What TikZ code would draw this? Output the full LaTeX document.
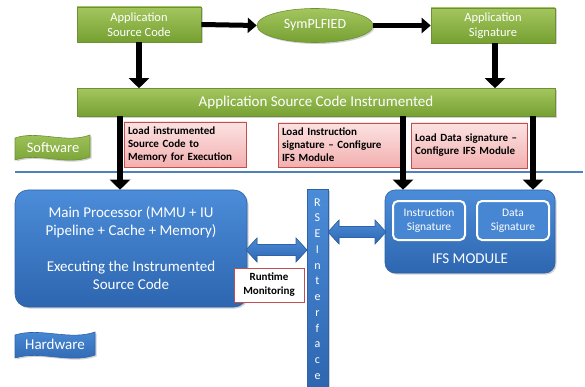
\documentclass[tikz,border=0pt]{standalone}
\usepackage{fontspec}
\setmainfont{Carlito}
\usetikzlibrary{arrows.meta,shapes.geometric,shadows}
\definecolor{gtop}{HTML}{A3C65E}
\definecolor{gbot}{HTML}{76A032}
\definecolor{gline}{HTML}{6E9035}
\definecolor{btop}{HTML}{4B8CD8}
\definecolor{bbot}{HTML}{2E66B0}
\definecolor{bline}{HTML}{2F62A8}
\definecolor{ptop}{HTML}{FCE2E2}
\definecolor{pbot}{HTML}{F3B0B0}
\definecolor{pline}{HTML}{C0504D}
\definecolor{sepline}{HTML}{4F81BD}
\newcommand\blockdarrow[3]{%
  \fill[top color=btop,bottom color=bbot,draw=bline,line width=0.6pt]
   (#1,#3) -- (#1+11,#3-12) -- (#1+11,#3-5.5) -- (#2-11,#3-5.5) -- (#2-11,#3-12)
   -- (#2,#3) -- (#2-11,#3+12) -- (#2-11,#3+5.5) -- (#1+11,#3+5.5) -- (#1+11,#3+12) -- cycle;}
\begin{document}
\begin{tikzpicture}[x=1pt,y=-1pt,
  shad/.style={drop shadow={shadow xshift=1.5pt,shadow yshift=-1.5pt,opacity=0.3,fill=black!60}},
  greenbox/.style={draw=gline,line width=0.6pt,top color=gtop,bottom color=gbot,text=white,
     align=center,inner sep=0pt,font=\fontsize{12.5}{15.5}\selectfont,shad},
  bluebox/.style={draw=bline,line width=0.6pt,top color=btop,bottom color=bbot,text=white,
     align=center,inner sep=0pt,shad},
  pinkbox/.style={draw=pline,line width=0.6pt,top color=ptop,bottom color=pbot,
     align=left,inner sep=0pt,font=\bfseries\fontsize{11}{13}\selectfont},
  bigarrow/.style={line width=6pt,-{Triangle[length=10pt,width=20pt]}},
  smallarrow/.style={line width=5pt,-{Triangle[length=9pt,width=15pt]}}
]
\useasboundingbox (0,0) rectangle (585,387);

% top row
\node[greenbox,minimum width=124pt,minimum height=35pt] (asc) at (139,24.5) {Application\\Source Code};
\node[greenbox,ellipse,minimum width=116pt,minimum height=34pt,font=\fontsize{14}{16}\selectfont] (sym) at (315,25.5) {SymPLFIED};
\node[greenbox,minimum width=124pt,minimum height=35pt] (sig) at (493,25.5) {Application\\Signature};
\node[greenbox,minimum width=478pt,minimum height=28pt,font=\fontsize{15}{17}\selectfont] (bar) at (316,102.5) {Application Source Code Instrumented};

\draw[smallarrow] (asc.east) -- (sym.west);
\draw[smallarrow] (sym.east) -- (sig.west);
\draw[bigarrow] (asc.south) -- (asc.south |- bar.north);
\draw[bigarrow] ([xshift=2pt]sig.south) -- ([xshift=2pt]sig.south |- bar.north);

% pink notes
\node[pinkbox,minimum width=122pt,minimum height=45pt,text width=114pt] (p1) at (185,144.5) {Load instrumented\\Source Code to\\Memory for Execution};
\node[pinkbox,minimum width=122pt,minimum height=44pt,text width=114pt] (p2) at (339,145) {Load Instruction\\signature -- Configure\\IFS Module};
\node[pinkbox,minimum width=116pt,minimum height=45pt,text width=108pt] (p3) at (469,145.5) {Load Data signature --\\Configure IFS Module};

% software banner
\path[draw=gline,line width=0.6pt,top color=gtop,bottom color=gbot,shad]
  (15,138) .. controls (38,130) and (66,144) .. (90,135) -- (90,157)
  .. controls (66,166) and (38,152) .. (15,160) -- cycle;
\node[text=white,font=\fontsize{14.5}{16}\selectfont] (sw) at (53,147.5) {Software};

% separator
\coordinate (sepL) at (15,172);
\coordinate (sepR) at (583,172);
\draw[sepline,line width=1.2pt] (sepL) -- (sepR);

% hardware
\node[bluebox,rounded corners=13pt,minimum width=232pt,minimum height=117pt,font=\fontsize{15}{18}\selectfont] (main) at (131,248.5)
  {Main Processor (MMU + IU\\Pipeline + Cache + Memory)\\[18pt]Executing the Instrumented\\Source Code};
\node[bluebox,minimum width=21pt,minimum height=198pt,font=\fontsize{12}{15.7}\selectfont,anchor=north] (rse) at (317.5,189)
  {};
\node[text=white,font=\fontsize{12}{15.75}\selectfont,align=center,anchor=north] (rsetxt) at (317.5,195)
  {R\\S\\E\\I\\n\\t\\e\\r\\f\\a\\c\\e};
\node[draw=pline,line width=0.8pt,fill=white,minimum width=70pt,minimum height=34pt,inner sep=0pt,align=center,
  font=\bfseries\fontsize{11}{14}\selectfont] (rt) at (269,285) {Runtime\\Monitoring};
\node[bluebox,rounded corners=10pt,minimum width=170pt,minimum height=83pt] (ifs) at (470,231.5) {};
\node[draw=white,line width=2pt,rounded corners=5pt,fill=btop!85!bbot,text=white,align=center,inner sep=0pt,
  minimum width=72pt,minimum height=39pt,font=\fontsize{11.5}{14}\selectfont] (isig) at (429,220.5) {Instruction\\Signature};
\node[draw=white,line width=2pt,rounded corners=5pt,fill=btop!85!bbot,text=white,align=center,inner sep=0pt,
  minimum width=72pt,minimum height=39pt,font=\fontsize{11.5}{14}\selectfont] (dsig) at (513,220.5) {Data\\Signature};
\node[text=white,font=\fontsize{15}{17}\selectfont] (ifst) at (470,259) {IFS MODULE};

% hardware banner
\path[draw=bline,line width=0.6pt,top color=btop,bottom color=bbot,shad]
  (15,335) .. controls (40,327) and (70,341) .. (95,332) -- (95,355)
  .. controls (70,364) and (40,350) .. (15,358) -- cycle;
\node[text=white,font=\fontsize{15}{17}\selectfont] (hw) at (55,344.5) {Hardware};

% down arrows from bar
\coordinate (d1) at (120,116.5);
\coordinate (d2) at (403,116.5);
\coordinate (d3) at (533,116.5);
\draw[bigarrow] (d1) -- (d1 |- main.north);
\draw[bigarrow] (d2) -- (d2 |- ifs.north);
\draw[bigarrow] (d3) -- (d3 |- ifs.north);

% block double arrows
\blockdarrow{246}{307}{250}
\blockdarrow{328}{386}{232}
\end{tikzpicture}
\end{document}
